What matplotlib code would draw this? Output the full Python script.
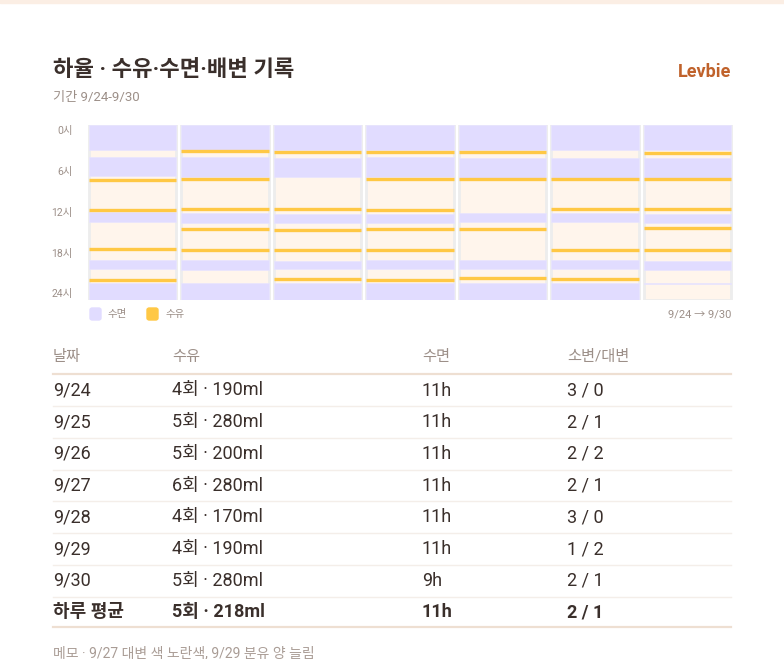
import matplotlib
matplotlib.use("Agg")
import matplotlib.pyplot as plt
from matplotlib.patches import Rectangle, FancyBboxPatch
import numpy as np

plt.rcParams['font.family'] = ['Roboto', 'Noto Sans CJK KR', 'DejaVu Sans']

# ---------------- data ----------------
dates = ['9/24', '9/25', '9/26', '9/27', '9/28', '9/29', '9/30']

# sleep blocks (start hour, end hour) per day
sleep_blocks = [
    [(0, 3.4), (4.45, 7.05), (11.95, 13.3), (18.5, 19.8), (21.7, 24)],
    [(0, 3.4), (4.45, 7.2), (12.1, 13.4), (18.5, 19.9), (21.7, 24)],
    [(0, 3.4), (4.5, 7.15), (12.2, 13.4), (18.6, 19.7), (21.6, 24)],
    [(0, 3.4), (4.45, 7.1), (12.2, 13.5), (18.5, 19.7), (21.6, 24)],
    [(0, 3.45), (4.5, 7.2), (12.0, 13.3), (18.5, 19.8), (21.7, 24)],
    [(0, 3.45), (4.5, 7.2), (12.1, 13.3), (18.5, 19.8), (21.7, 24)],
    [(0, 3.45), (4.5, 7.2), (12.2, 13.4), (18.6, 19.9), (21.6, 21.75)],
]
# feeding times (hour) per day
feed_times = [
    [7.5, 11.7, 17.0, 21.25],
    [3.6, 7.4, 11.5, 14.3, 17.1],
    [3.65, 11.5, 14.4, 17.1, 21.15],
    [3.7, 7.45, 11.6, 14.2, 17.2, 21.2],
    [3.75, 7.35, 14.25, 21.0],
    [7.35, 11.5, 17.1, 21.1],
    [3.85, 7.4, 11.55, 14.15, 17.1],
]
hour_labels = ['0시', '6시', '12시', '18시', '24시']

# table
headers = ['날짜', '수유', '수면', '소변/대변']
feed_count = [4, 5, 5, 6, 4, 4, 5]
feed_ml = [190, 280, 200, 280, 170, 190, 280]
sleep_hours = [11, 11, 11, 11, 11, 11, 9]
pee = [3, 2, 2, 2, 3, 1, 2]
poo = [0, 1, 2, 1, 0, 2, 1]
avg_row = ['하루 평균', '5회 · 218ml', '11h', '2 / 1']

title = '하율 · 수유·수면·배변 기록'
subtitle = '기간 9/24-9/30'
brand = 'Levbie'
memo = '메모 · 9/27 대변 색 노란색, 9/29 분유 양 늘림'

# ---------------- colours ----------------
SLEEP = '#E1DCFF'
FEED = '#FFC845'
CREAM = '#FFF5EC'
DARK = '#3A2F2B'
MUTED = '#9C8F88'
LINE = '#EEDFD2'
THIN = '#F4EEE9'

W, H = 784, 659
fig = plt.figure(figsize=(W / 100, H / 100), dpi=100)
fig.patch.set_facecolor('white')


def fx(x):
    return x / W


def fy(y):
    return 1 - y / H


def txt(x, y, s, **kw):
    fig.text(fx(x), fy(y), s, va='center', **kw)


# top strip
fig.patches.append(Rectangle((0, fy(3)), 1, 3 / H, transform=fig.transFigure,
                             color='#FBEEE4', zorder=0))

# very soft card shadow
for k in range(10):
    pad = 1 + k * 2.5
    fig.patches.append(FancyBboxPatch(
        (fx(48 - pad), fy(326 + pad)), (692 + 2 * pad) / W, (276 + 2 * pad) / H,
        boxstyle='round,pad=0,rounding_size=0.03', transform=fig.transFigure,
        facecolor='#000000', edgecolor='none', alpha=0.0018, zorder=0))
fig.patches.append(FancyBboxPatch(
    (fx(48), fy(326)), 692 / W, 276 / H,
    boxstyle='round,pad=0,rounding_size=0.03', transform=fig.transFigure,
    facecolor='white', edgecolor='none', zorder=0))

# ---------------- header texts ----------------
txt(53, 70, title, fontsize=16, fontweight='bold', color=DARK)
txt(53, 97, subtitle, fontsize=9.5, color=MUTED)
txt(731, 72, brand, fontsize=13, fontweight='bold', color='#C0622B', ha='right')

# ---------------- timeline chart ----------------
ax = fig.add_axes([fx(86.5), fy(300), 647 / W, 175 / H])
ax.set_zorder(2)
ax.patch.set_alpha(0)
bw = 0.945
x = np.arange(len(dates))
ax.bar(x + 0.5, 24, bottom=0, width=bw, color=CREAM, edgecolor='#EDEDED',
       linewidth=2.0, zorder=1)
for i, blocks in enumerate(sleep_blocks):
    for s, e in blocks:
        ax.bar(i + 0.5, e - s, bottom=s, width=bw, color=SLEEP,
               edgecolor='#E8E4FF', linewidth=0.5, zorder=2)
for i, times in enumerate(feed_times):
    ax.hlines(times, i + 0.5 - bw / 2, i + 0.5 + bw / 2, color=FEED,
              linewidth=2.4, zorder=3)
ax.set_xlim(0, 7)
ax.set_ylim(24, 0)
ax.set_xticks([])
ax.set_yticks(np.linspace(0.7, 23.1, 5))
ax.set_yticklabels(hour_labels, fontsize=7.5, color=MUTED)
ax.tick_params(axis='y', length=0, pad=10)
for sp in ax.spines.values():
    sp.set_visible(False)

# legend
fig.patches.append(FancyBboxPatch((fx(90), fy(320)), 11 / W, 12 / H,
                                  boxstyle='round,pad=0,rounding_size=0.003',
                                  transform=fig.transFigure, color=SLEEP, zorder=3))
txt(108, 314, '수면', fontsize=7.5, color=MUTED)
fig.patches.append(FancyBboxPatch((fx(147), fy(320)), 11 / W, 12 / H,
                                  boxstyle='round,pad=0,rounding_size=0.003',
                                  transform=fig.transFigure, color=FEED, zorder=3))
txt(165, 314, '수유', fontsize=7.5, color=MUTED)
txt(731, 314, '9/24 → 9/30', fontsize=8, color=MUTED, ha='right')

# ---------------- table ----------------
col_x = [53, 172, 422, 567]
for cx, h in zip(col_x, headers):
    txt(cx, 357, h, fontsize=11, color=MUTED)
fig.add_artist(plt.Line2D([fx(53), fx(731)], [fy(373.5), fy(373.5)], color=LINE,
                          linewidth=1.6))

row_y0, row_dy = 390.5, 31.7
for i, d in enumerate(dates):
    y = row_y0 + i * row_dy
    cells = [d, f'{feed_count[i]}회 · {feed_ml[i]}ml', f'{sleep_hours[i]}h',
             f'{pee[i]} / {poo[i]}']
    for cx, c in zip(col_x, cells):
        txt(cx, y, c, fontsize=13, color=DARK)
    yl = y + row_dy / 2
    fig.add_artist(plt.Line2D([fx(53), fx(731)], [fy(yl), fy(yl)], color=THIN,
                              linewidth=1.0))

y = row_y0 + len(dates) * row_dy
for cx, c in zip(col_x, avg_row):
    txt(cx, y, c, fontsize=13, color=DARK, fontweight='bold')
fig.add_artist(plt.Line2D([fx(53), fx(731)], [fy(627), fy(627)], color=LINE,
                          linewidth=1.6))

txt(53, 653, memo, fontsize=10, color='#A99C95')

fig.savefig('out.png', dpi=100)
